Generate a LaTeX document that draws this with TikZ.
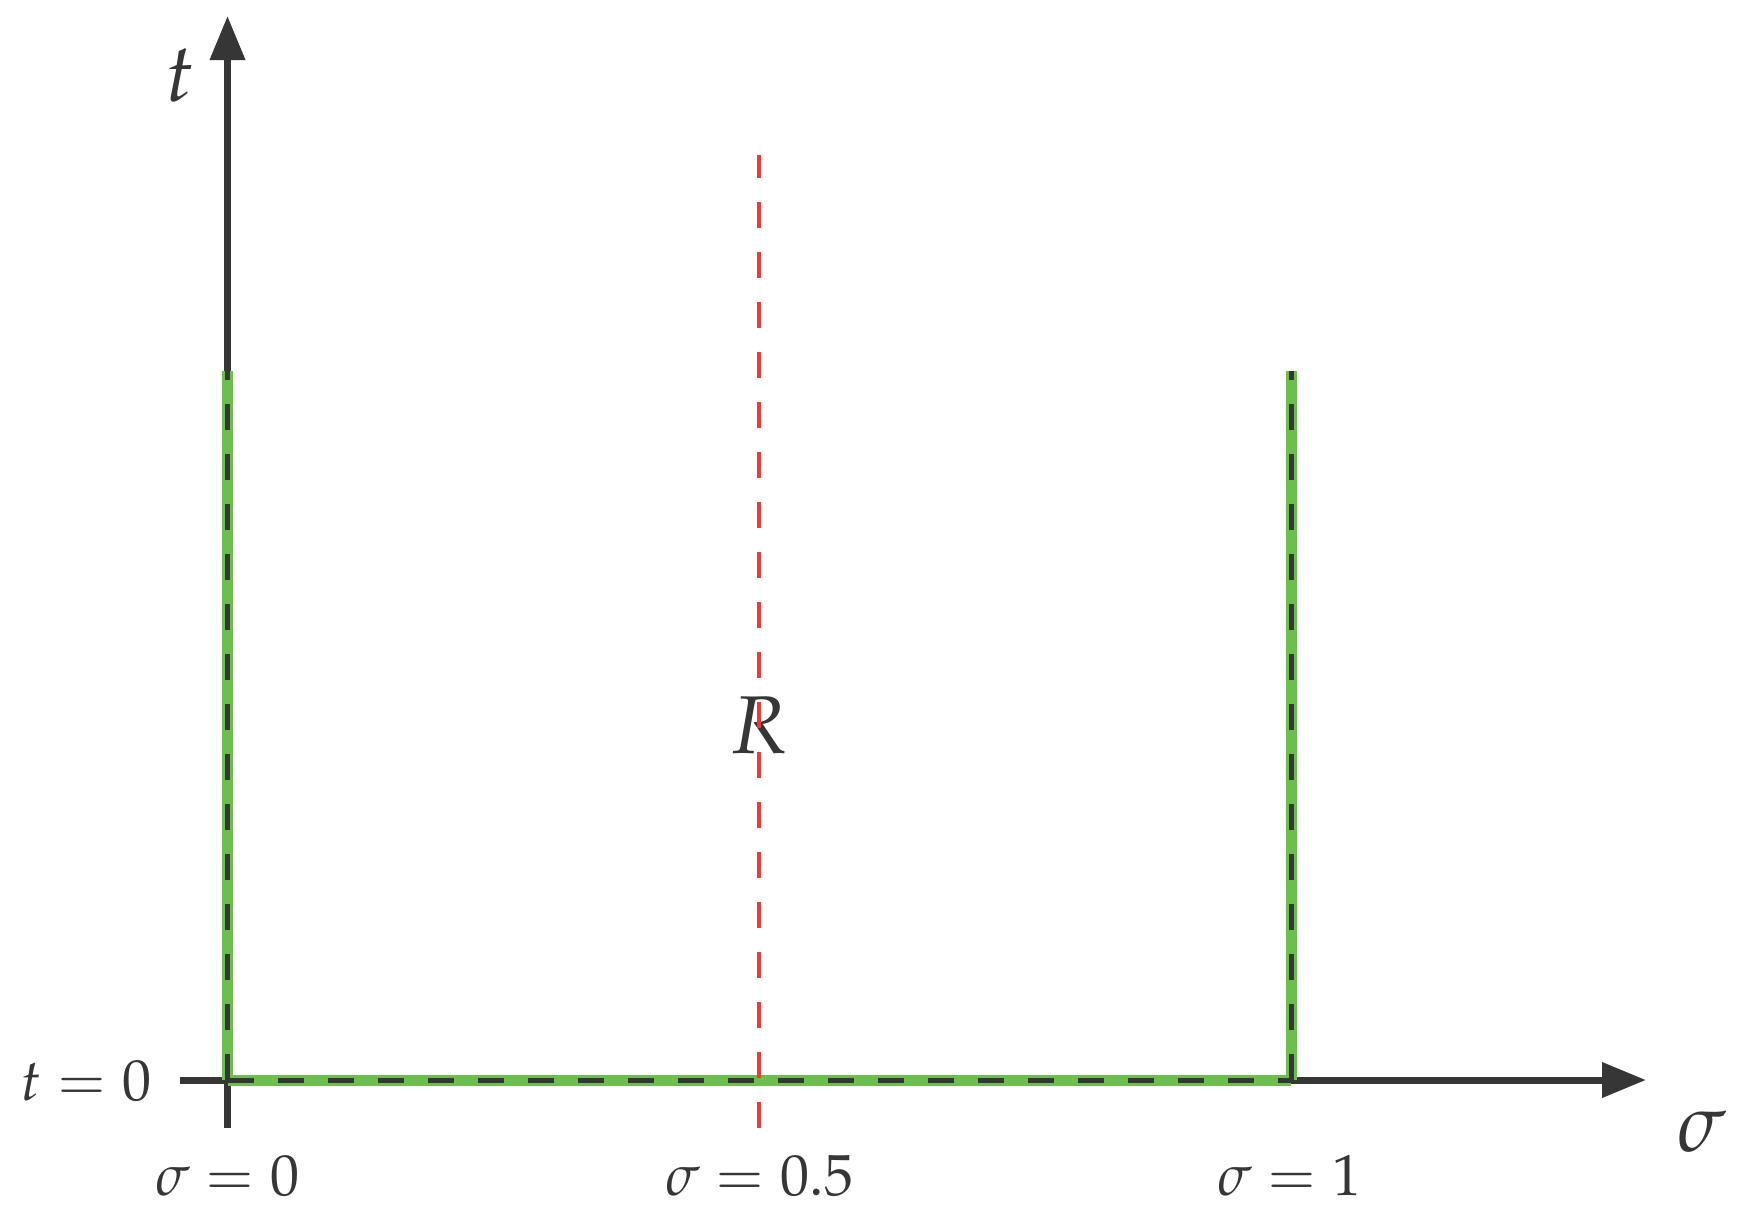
\documentclass[tikz,border=0pt]{standalone}
\usepackage{mathpazo}
\usetikzlibrary{arrows.meta}
\definecolor{axisgray}{HTML}{363636}
\definecolor{pathgreen}{HTML}{6CBF4E}
\definecolor{linered}{HTML}{F03A3A}
\tikzset{
  axisline/.style={draw=axisgray, line width=3.5pt, -{Triangle[length=22pt,width=17pt]}},
  axisstub/.style={draw=axisgray, line width=3.5pt},
  greenline/.style={draw=pathgreen, line width=5.5pt},
  blackdash/.style={draw=axisgray, line width=2.5pt, dash pattern=on 13pt off 12pt},
  reddash/.style={draw=linered, line width=2pt, dash pattern=on 13pt off 12pt},
  biglabel/.style={text=axisgray, inner sep=0pt, font=\fontsize{41}{49}\selectfont},
  smalllabel/.style={text=axisgray, inner sep=0pt, font=\fontsize{29}{35}\selectfont, anchor=base},
}
\begin{document}
\begin{tikzpicture}[x=0.5pt,y=-0.5pt]
\useasboundingbox (0,0) rectangle (1743,1210);
% coordinates
\coordinate (ybot) at (227.5,1128);
\coordinate (ytop) at (227.5,16);
\coordinate (xleft) at (180,1080);
\coordinate (xright) at (1646,1080);
\coordinate (origin) at (227.5,1080);
\coordinate (lefttop) at (227.5,371);
\coordinate (rightcorner) at (1291,1080);
\coordinate (righttop) at (1291,371);
\coordinate (redbot) at (759,1128);
\coordinate (redtop) at (759,155);
% axes
\draw[axisline] (ybot) -- (ytop);
\draw[axisline] (xleft) -- (xright);
% green path
\draw[greenline] (origin) -- (lefttop);
\draw[greenline] (origin) -- (rightcorner);
\draw[greenline] (rightcorner) -- (righttop);
% black dashes
\draw[blackdash] (origin) -- (lefttop);
\draw[blackdash] (origin) -- (rightcorner);
\draw[blackdash] (rightcorner) -- (righttop);
% labels
\node[biglabel, anchor=base] (tlab) at (180,101) {$t$};
\node[biglabel, anchor=base] (sigmalab) at (1702,1151) {$\sigma$};
\node[biglabel, anchor=base] (Rlab) at (759,753) {$R$};
\node[smalllabel] (t0) at (86,1100) {$t=0$};
\node[smalllabel] (s0) at (227.5,1195) {$\sigma=0$};
\node[smalllabel] (s05) at (759.5,1195) {$\sigma=0.5$};
\node[smalllabel] (s1) at (1289.5,1195) {$\sigma=1$};
% red dashed
\draw[reddash] (redbot) -- (redtop);
\end{tikzpicture}
\end{document}
